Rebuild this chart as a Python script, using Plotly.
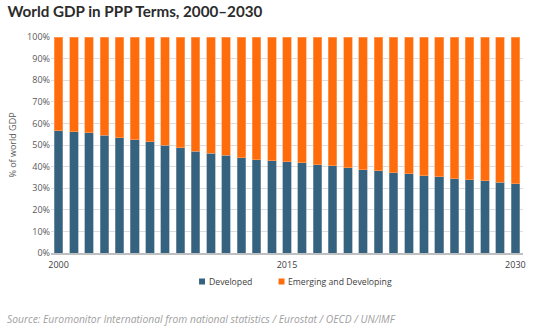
import plotly.graph_objects as go

years = list(range(2000, 2031))
developed = [56.6, 56.1, 55.7, 54.6, 53.4, 52.4, 51.4, 50.0, 48.7, 47.2,
             46.1, 45.2, 44.1, 43.2, 42.7, 42.3, 41.8, 40.9, 40.3, 39.5,
             38.6, 38.0, 37.2, 36.7, 35.8, 35.2, 34.4, 33.9, 33.5, 32.7, 32.1]
emerging = [round(100 - d, 1) for d in developed]
series_names = ["Developed", "Emerging and Developing"]
y_ticks = list(range(0, 101, 10))
y_tick_text = [f"{v}%" for v in y_ticks]
x_ticks = [2000, 2015, 2030]

DEV_COLOR = "#35637F"
EM_COLOR = "#FF6C0C"

# plot area in px
L, R, T, B = 51, 9, 37, 75
W, H = 535, 328
PW, PH = W - L - R, H - T - B

def px_x(x):
    return (x - L) / PW

def px_y(y):
    return (H - B - y) / PH

fig = go.Figure()
fig.add_trace(go.Bar(x=years, y=developed, name=series_names[0], showlegend=False,
                     marker=dict(color=DEV_COLOR, line=dict(color="#8AA3B3", width=0.6))))
fig.add_trace(go.Bar(x=years, y=emerging, name=series_names[1], showlegend=False,
                     marker=dict(color=EM_COLOR, line=dict(color="#FFA870", width=0.6))))

fig.update_layout(
    width=W, height=H,
    barmode="stack", bargap=0.44,
    plot_bgcolor="white", paper_bgcolor="white",
    margin=dict(l=L, r=R, t=T, b=B),
    font=dict(family="Open Sans, sans-serif", size=9, color="#595959"),
    title=dict(text="<b>World GDP in PPP Terms, 2000–2030</b>",
               x=0.014, xanchor="left", y=0.963, yanchor="middle",
               font=dict(family="Lato, sans-serif", size=15.2, color="#2b2b2b")),
    showlegend=False,
    xaxis=dict(range=[1999.5, 2030.5], tickvals=x_ticks, ticktext=[str(t) for t in x_ticks],
               showgrid=False, showline=True, linecolor="#BFBFBF", linewidth=2,
               ticks="", tickfont=dict(size=9, color="#404040"), ticklabelstandoff=2),
    yaxis=dict(range=[0, 100], tickvals=y_ticks, ticktext=y_tick_text,
               showgrid=True, gridcolor="#DDDDDD", gridwidth=1, zeroline=False,
               ticks="", tickfont=dict(size=9, color="#595959"),
               title=dict(text="% of world GDP", font=dict(size=9, color="#595959"), standoff=8)),
)

# custom legend (small squares with tight labels)
legend_items = [(series_names[0], DEV_COLOR, 200, 208), (series_names[1], EM_COLOR, 280, 287)]
for name, color, sq_x, tx in legend_items:
    fig.add_shape(type="rect", xref="paper", yref="paper",
                  x0=px_x(sq_x), x1=px_x(sq_x + 6), y0=px_y(284.5), y1=px_y(278.5),
                  fillcolor=color, line=dict(width=0))
    fig.add_annotation(text=name, xref="paper", yref="paper", x=px_x(tx), y=px_y(281.5),
                       xanchor="left", yanchor="middle", showarrow=False,
                       font=dict(size=8.7, color="#404040", family="Open Sans, sans-serif"))

fig.add_annotation(text="<i>Source: Euromonitor International from national statistics / Eurostat / OECD / UN/IMF</i>",
                   xref="paper", yref="paper", x=px_x(5), y=px_y(318.5), xanchor="left", yanchor="middle",
                   showarrow=False, font=dict(size=10.3, color="#A0A0A0", family="Open Sans, sans-serif"))

fig.write_html("out.html")
